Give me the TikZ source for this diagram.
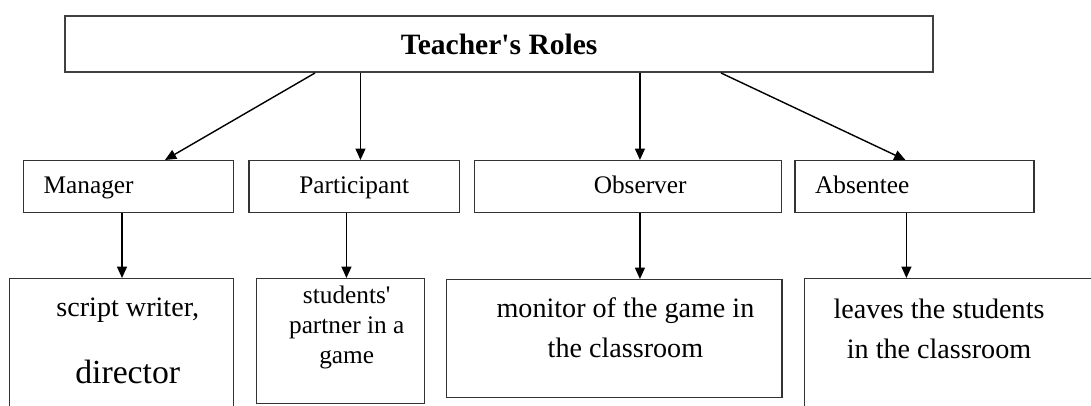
\documentclass[tikz,border=0pt]{standalone}
\usepackage{fontspec}
\setmainfont{Liberation Serif}
\usepackage{tikz}
\usetikzlibrary{arrows.meta, positioning, calc}

\begin{document}
\begin{tikzpicture}[
  x=0.025cm, y=-0.025cm,
  >={Triangle[length=8pt,width=7pt]}, line width=1pt,
  topbox/.style  = {draw=black!75, line width=1.4pt, rectangle, anchor=north west,
                    minimum width=21.7cm, minimum height=1.4cm,
                    font=\fontsize{21}{25}\selectfont\bfseries},
  rolebox/.style = {draw=black!80, rectangle, minimum height=1.3cm, inner xsep=0.5cm,
                    text height=12pt, text depth=3pt,
                    font=\fontsize{18}{22}\selectfont},
  descbox/.style = {draw=black!80, rectangle, anchor=north west},
  desctext/.style= {inner sep=0pt, align=center, font=\fontsize{20}{28.4}\selectfont},
]
  \useasboundingbox (0,0) rectangle (1091,406);
  \clip (0,0) rectangle (1091,406);

%--- top box ---
  \node[topbox] (roles) at (64,15) {Teacher\textquotesingle s Roles};

%--- the four roles ---
  \node[rolebox, anchor=north west, minimum width=5.25cm, text width=4.25cm, align=left]
                                          (man) at (23,160) {Manager};
  \node[rolebox, right=0.35cm of man, minimum width=5.25cm]  (par) {Participant};
  \node[rolebox, right=0.35cm of par, minimum width=7.675cm] (obs) {\hspace*{0.6cm}Observer};
  \node[rolebox, right=0.3cm of obs, minimum width=5.975cm, text width=4.975cm, align=left]
                                          (abs) {Absentee};

%--- descriptions (bottom row) ---
  \node[descbox, minimum width=5.6cm,  minimum height=3.55cm]  (mdesc) at (9,278)   {};
  \node[descbox, minimum width=4.2cm,  minimum height=3.125cm] (pdesc) at (256,278) {};
  \node[descbox, minimum width=8.375cm, minimum height=2.95cm] (odesc) at (446,279) {};
  \node[descbox, minimum width=7.65cm, minimum height=3.55cm]  (adesc) at (804,278) {};

  \node[desctext, below=0.475cm of mdesc.north, xshift=0.15cm] (mtxt)
       {script writer,\\[0.68cm]\fontsize{24}{28}\selectfont director};
  \node[desctext, below=0.175cm of pdesc.north, xshift=0.15cm,
        font=\fontsize{18}{21.3}\selectfont] (ptxt)
       {students\textquotesingle\\partner in a\\game};
  \node[desctext, below=0.45cm of odesc.north, xshift=0.28cm] (otxt)
       {monitor of the game in\\the classroom};
  \node[desctext, below=0.5cm of adesc.north west, xshift=3.375cm] (atxt)
       {leaves the students\\in the classroom};

%--- arrows from the top box ---
  \coordinate (min)  at ($(man.north west)+(142,0)$);
  \coordinate (pin)  at ($(par.north west)+(112,0)$);
  \coordinate (oin)  at ($(obs.north west)+(166,0)$);
  \coordinate (ain)  at ($(abs.north west)+(111,0)$);
  \draw[->] ($(roles.south west)+(251,0)$) -- (min);
  \draw[->] (roles.south -| pin) -- (pin);
  \draw[->] (roles.south -| oin) -- (oin);
  \draw[->] ($(roles.south west)+(657,0)$) -- (ain);

%--- arrows down to the descriptions ---
  \coordinate (mout) at ($(man.south west)+(99,0)$);
  \coordinate (pout) at ($(par.south west)+(98,0)$);
  \coordinate (oout) at ($(obs.south west)+(166,0)$);
  \coordinate (aout) at ($(abs.south west)+(112,0)$);
  \draw[->] (mout) -- (mout |- mdesc.north);
  \draw[->] (pout) -- (pout |- pdesc.north);
  \draw[->] (oout) -- (oout |- odesc.north);
  \draw[->] (aout) -- (aout |- adesc.north);
\end{tikzpicture}
\end{document}
